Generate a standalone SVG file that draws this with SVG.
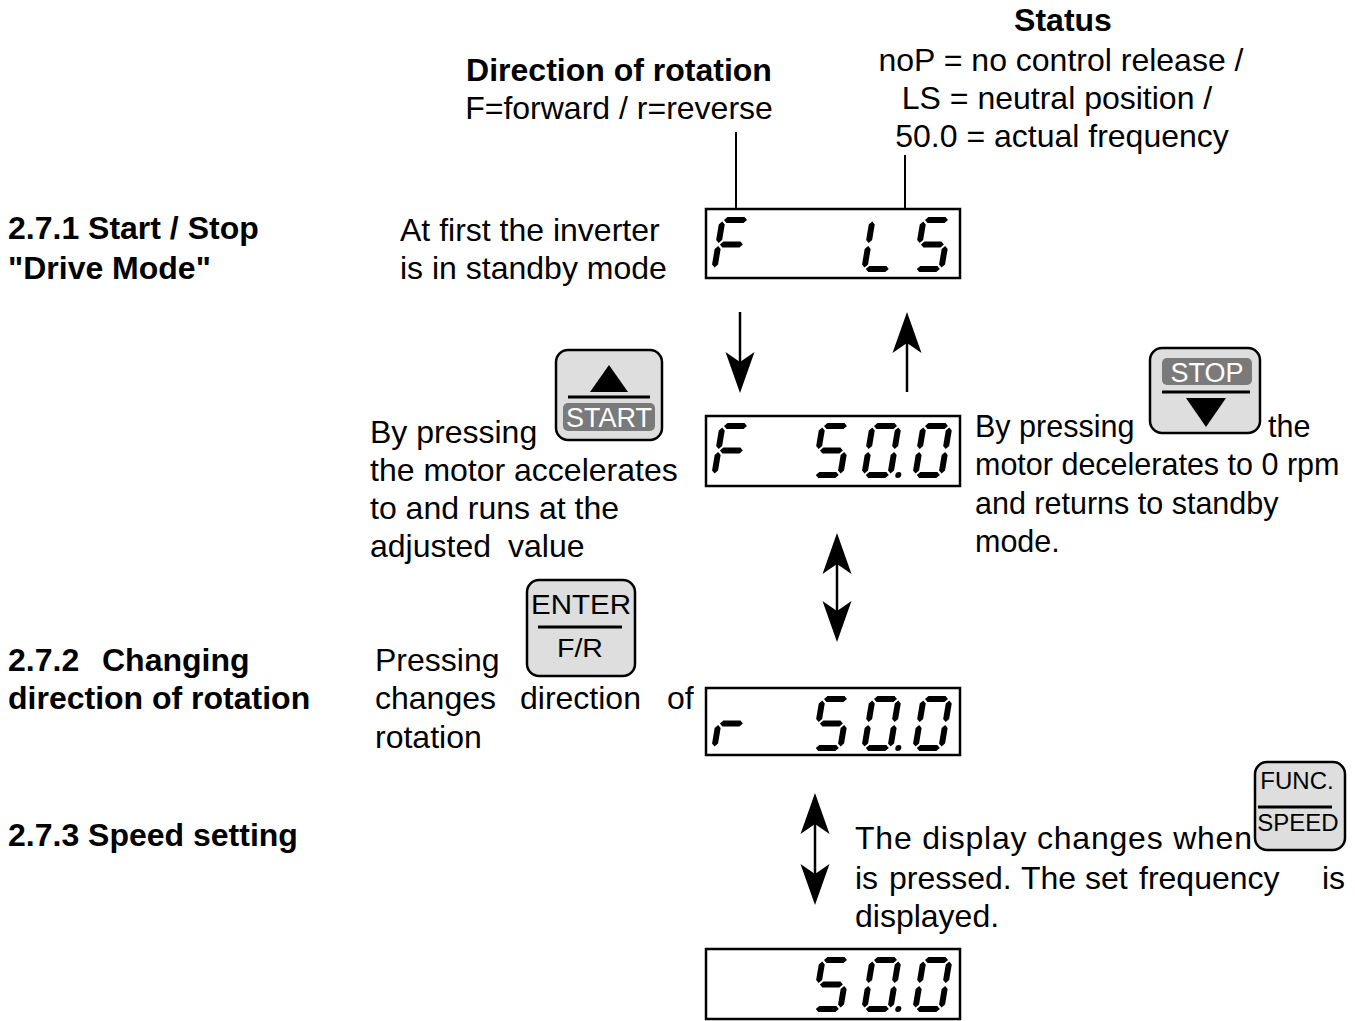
<svg xmlns="http://www.w3.org/2000/svg" width="1355" height="1021" viewBox="0 0 1355 1021">
<style>
.t{font-family:"Liberation Sans",Arial,sans-serif;font-size:32px;fill:#000}
.r{font-size:30.5px}
.b{font-weight:bold}
.disp{fill:#fff;stroke:#000;stroke-width:2.5}
.btn{fill:#dedede;stroke:#000;stroke-width:2.5}
.lab{fill:#7a7a7a}
.wl{font-family:"Liberation Sans",Arial,sans-serif;fill:#fff}
.bl{font-family:"Liberation Sans",Arial,sans-serif;fill:#000}
.seg{fill:#000}
.ln{stroke:#000;stroke-width:2;fill:none}
.arr{stroke:#000;stroke-width:2.5;fill:none}
</style>
<defs>
<polygon id="sa" class="seg" points="4.5,3 7.5,0 24.5,0 27.5,3 24.5,6 7.5,6"/>
<polygon id="sg" class="seg" points="4.5,27.5 7.5,24.5 24.5,24.5 27.5,27.5 24.5,30.5 7.5,30.5"/>
<polygon id="sd" class="seg" points="4.5,52 7.5,49 24.5,49 27.5,52 24.5,55 7.5,55"/>
<polygon id="sf" class="seg" points="3,4.5 6,7.5 6,23 3,26 0,23 0,7.5"/>
<polygon id="sb" class="seg" points="29,4.5 32,7.5 32,23 29,26 26,23 26,7.5"/>
<polygon id="se" class="seg" points="3,29 6,32 6,47.5 3,50.5 0,47.5 0,32"/>
<polygon id="sc" class="seg" points="29,29 32,32 32,47.5 29,50.5 26,47.5 26,32"/>
<g id="dF"><use href="#sa"/><use href="#sf"/><use href="#se"/><use href="#sg"/></g>
<g id="dL"><use href="#sf"/><use href="#se"/><use href="#sd"/></g>
<g id="d5"><use href="#sa"/><use href="#sf"/><use href="#sg"/><use href="#sc"/><use href="#sd"/></g>
<g id="d0"><use href="#sa"/><use href="#sb"/><use href="#sc"/><use href="#sd"/><use href="#se"/><use href="#sf"/></g>
<g id="d0dot"><use href="#d0"/><circle cx="37" cy="52" r="3"/></g>
<g id="dr"><use href="#sg"/><use href="#se"/></g>
<marker id="ah" viewBox="-42 -16 43 32" refX="-31" refY="0" markerWidth="43" markerHeight="32" markerUnits="userSpaceOnUse" orient="auto-start-reverse">
<polygon points="0,0 -41,-14.5 -31,0 -41,14.5" fill="#000"/>
</marker>
</defs>
<rect width="1355" height="1021" fill="#fff"/>

<g id="labels-top">
<text class="t b" x="1063" y="31" text-anchor="middle">Status</text>
<text class="t" x="1061" y="71" text-anchor="middle">noP = no control release /</text>
<text class="t" x="1057" y="109" text-anchor="middle">LS = neutral position /</text>
<text class="t" x="1062" y="147" text-anchor="middle">50.0 = actual frequency</text>
<text class="t b" x="619" y="81" text-anchor="middle">Direction of rotation</text>
<text class="t" x="619" y="119" text-anchor="middle">F=forward / r=reverse</text>
</g>

<g id="headings">
<text class="t b" x="8" y="239">2.7.1 Start / Stop</text>
<text class="t b" x="8" y="279">"Drive Mode"</text>
<text class="t b" x="8" y="671">2.7.2</text>
<text class="t b" x="102" y="671">Changing</text>
<text class="t b" x="8" y="709">direction of rotation</text>
<text class="t b" x="8" y="846">2.7.3 Speed setting</text>
</g>

<g id="desc">
<text class="t" x="400" y="241">At first the inverter</text>
<text class="t" x="400" y="279">is in standby mode</text>
<text class="t" x="370" y="443">By pressing</text>
<text class="t" x="370" y="481">the motor accelerates</text>
<text class="t" x="370" y="519">to and runs at the</text>
<text class="t" x="370" y="557">adjusted<tspan x="508">value</tspan></text>
<text class="t r" x="975" y="437">By pressing</text>
<text class="t r" x="1268" y="437">the</text>
<text class="t r" x="975" y="475">motor decelerates to 0 rpm</text>
<text class="t r" x="975" y="514">and returns to standby</text>
<text class="t r" x="975" y="552">mode.</text>
<text class="t" x="375" y="671">Pressing</text>
<text class="t" x="375" y="709">changes<tspan x="520">direction</tspan><tspan x="667">of</tspan></text>
<text class="t" x="375" y="748">rotation</text>
<text class="t" x="855" y="849" textLength="397" lengthAdjust="spacing">The display changes when</text>
<text class="t" x="855" y="889">is<tspan x="889">pressed.</tspan><tspan x="1021">The</tspan><tspan x="1085">set</tspan><tspan x="1139">frequency</tspan><tspan x="1322">is</tspan></text>
<text class="t" x="855" y="927">displayed.</text>
</g>

<g id="display1">
<rect class="disp" x="706" y="209" width="254" height="69"/>
<use href="#dF" transform="translate(720,217) skewX(-9.5)"/>
<use href="#dL" transform="translate(870,217) skewX(-9.5)"/>
<use href="#d5" transform="translate(921,217) skewX(-9.5)"/>
</g>
<g id="display2">
<rect class="disp" x="706" y="416" width="254" height="70"/>
<use href="#dF" transform="translate(720,423) skewX(-9.5)"/>
<use href="#d5" transform="translate(820,423) skewX(-9.5)"/>
<use href="#d0dot" transform="translate(870,423) skewX(-9.5)"/>
<use href="#d0" transform="translate(921,423) skewX(-9.5)"/>
</g>
<g id="display3">
<rect class="disp" x="706" y="688" width="254" height="67"/>
<use href="#dr" transform="translate(720,696) skewX(-9.5)"/>
<use href="#d5" transform="translate(820,696) skewX(-9.5)"/>
<use href="#d0dot" transform="translate(870,696) skewX(-9.5)"/>
<use href="#d0" transform="translate(921,696) skewX(-9.5)"/>
</g>
<g id="display4">
<rect class="disp" x="706" y="949" width="254" height="70"/>
<use href="#d5" transform="translate(820,957) skewX(-9.5)"/>
<use href="#d0dot" transform="translate(870,957) skewX(-9.5)"/>
<use href="#d0" transform="translate(921,957) skewX(-9.5)"/>
</g>

<g id="btn-start">
<rect class="btn" x="556" y="350" width="106" height="90" rx="12"/>
<polygon points="609,365 590,392 628,392" fill="#000"/>
<line x1="568" y1="397" x2="650" y2="397" stroke="#000" stroke-width="3"/>
<rect class="lab" x="563" y="403" width="92" height="28" rx="5"/>
<text class="wl" x="609" y="427" font-size="27" text-anchor="middle">START</text>
</g>
<g id="btn-stop">
<rect class="btn" x="1150" y="348" width="110" height="85" rx="12"/>
<rect class="lab" x="1162" y="358" width="90" height="27" rx="5"/>
<text class="wl" x="1207" y="382" font-size="27" text-anchor="middle">STOP</text>
<line x1="1162" y1="392" x2="1250" y2="392" stroke="#000" stroke-width="3"/>
<polygon points="1186,398 1226,398 1206,427" fill="#000"/>
</g>
<g id="btn-enter">
<rect class="btn" x="527" y="580" width="108" height="96" rx="12"/>
<text class="bl" x="531" y="614" font-size="27" textLength="100" lengthAdjust="spacingAndGlyphs">ENTER</text>
<line x1="538" y1="627" x2="622" y2="627" stroke="#000" stroke-width="3"/>
<text class="bl" x="557" y="657" font-size="25" textLength="46" lengthAdjust="spacingAndGlyphs">F/R</text>
</g>
<g id="btn-func">
<rect class="btn" x="1255" y="762" width="90" height="88" rx="12"/>
<text class="bl" x="1297" y="789" font-size="24" text-anchor="middle">FUNC.</text>
<line x1="1258" y1="807" x2="1332" y2="807" stroke="#000" stroke-width="3"/>
<text class="bl" x="1298" y="831" font-size="24" text-anchor="middle">SPEED</text>
</g>

<g id="connectors">
<line class="ln" x1="736" y1="132" x2="736" y2="209"/>
<line class="ln" x1="905" y1="155" x2="905" y2="209"/>
<line class="arr" x1="740" y1="312" x2="740" y2="362" marker-end="url(#ah)"/>
<line class="arr" x1="907" y1="392" x2="907" y2="343" marker-end="url(#ah)"/>
<line class="arr" x1="837" y1="564" x2="837" y2="611" marker-start="url(#ah)" marker-end="url(#ah)"/>
<line class="arr" x1="815" y1="824" x2="815" y2="874" marker-start="url(#ah)" marker-end="url(#ah)"/>
</g>
</svg>
